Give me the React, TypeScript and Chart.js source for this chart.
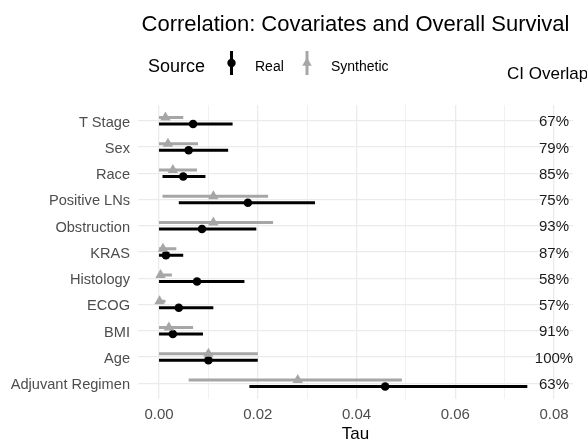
import React, { useEffect, useRef } from 'react';
import { Chart, registerables } from 'chart.js';

Chart.register(...registerables);

const categories = ['T Stage', 'Sex', 'Race', 'Positive LNs', 'Obstruction', 'KRAS', 'Histology', 'ECOG', 'BMI', 'Age', 'Adjuvant Regimen'];
const realEst = [0.0069, 0.006, 0.0049, 0.018, 0.0087, 0.0014, 0.0077, 0.004, 0.0028, 0.01, 0.0458];
const realLo = [0, 0, 0.0007, 0.004, 0, 0, 0, 0, 0, 0, 0.0183];
const realHi = [0.0149, 0.014, 0.0094, 0.0316, 0.0197, 0.0049, 0.0173, 0.011, 0.0089, 0.02, 0.0746];
const synEst = [0.0013, 0.0018, 0.0028, 0.011, 0.011, 0.0008, 0.0003, 0.0001, 0.002, 0.01, 0.0281];
const synLo = [0, 0, 0, 0.0007, 0, 0, 0, 0, 0, 0, 0.006];
const synHi = [0.0049, 0.0079, 0.0077, 0.0221, 0.0231, 0.0035, 0.0026, 0.0013, 0.0069, 0.02, 0.0492];
const overlapLabels = ['67%', '79%', '85%', '75%', '93%', '87%', '58%', '57%', '91%', '100%', '63%'];
const overlapX = 0.08;
const xTicks = [0, 0.01, 0.02, 0.03, 0.04, 0.05, 0.06, 0.07, 0.08];
const xTickLabels = ['0.00', '', '0.02', '', '0.04', '', '0.06', '', '0.08'];

const REAL = '#000000';
const SYN = '#a6a6a6';
const GRID = '#ebebeb';
const FONT = '"Liberation Sans", Arial, Helvetica, sans-serif';
const DODGE = 0.125;

function ciData(lo: number[], hi: number[], offset: number) {
  const pts: { x: number; y: number | null }[] = [];
  lo.forEach((l, i) => {
    pts.push({ x: l, y: i + offset });
    pts.push({ x: hi[i], y: i + offset });
    pts.push({ x: hi[i], y: null });
  });
  return pts;
}

function estData(est: number[], offset: number) {
  return est.map((v, i) => ({ x: v, y: i + offset }));
}

function tri(ctx: CanvasRenderingContext2D, x: number, y: number, r: number) {
  ctx.beginPath();
  ctx.moveTo(x, y - r);
  ctx.lineTo(x + r * 0.866, y + r * 0.5);
  ctx.lineTo(x - r * 0.866, y + r * 0.5);
  ctx.closePath();
  ctx.fill();
}

const annot = {
  id: 'annot',
  afterDatasetsDraw(chart: any) {
    const { ctx, scales } = chart;
    ctx.save();
    ctx.font = `15px ${FONT}`;
    ctx.fillStyle = '#1a1a1a';
    ctx.textAlign = 'center';
    ctx.textBaseline = 'middle';
    overlapLabels.forEach((t, i) => {
      ctx.fillText(t, scales.x.getPixelForValue(overlapX), scales.y.getPixelForValue(i) + 1.5);
    });
    ctx.restore();
  },
  afterDraw(chart: any) {
    const { ctx, chartArea } = chart;
    const cx = (chartArea.left + chartArea.right) / 2;
    ctx.save();
    ctx.fillStyle = '#000';
    ctx.textBaseline = 'alphabetic';
    ctx.textAlign = 'center';
    ctx.font = `22px ${FONT}`;
    ctx.fillText('Correlation: Covariates and Overall Survival', cx, 31);
    ctx.font = `17px ${FONT}`;
    ctx.fillText('Tau', cx, 439);
    ctx.textAlign = 'left';
    ctx.font = `18px ${FONT}`;
    ctx.fillText('Source', 148, 71.5);
    ctx.font = `14px ${FONT}`;
    ctx.fillText('Real', 255, 70.5);
    ctx.fillText('Synthetic', 331, 70.5);
    ctx.font = `17px ${FONT}`;
    ctx.fillText('CI Overlap', 507, 79);
    // legend keys
    ctx.lineWidth = 3;
    ctx.strokeStyle = REAL;
    ctx.beginPath();
    ctx.moveTo(231.5, 51);
    ctx.lineTo(231.5, 75);
    ctx.stroke();
    ctx.beginPath();
    ctx.arc(231.5, 63, 4.2, 0, Math.PI * 2);
    ctx.fill();
    ctx.strokeStyle = SYN;
    ctx.fillStyle = SYN;
    ctx.beginPath();
    ctx.moveTo(307, 51);
    ctx.lineTo(307, 75);
    ctx.stroke();
    tri(ctx, 307, 63, 5.5);
    ctx.restore();
  },
};

export default function App() {
  const ref = useRef<HTMLCanvasElement>(null);
  useEffect(() => {
    if (!ref.current) return;
    const chart = new Chart(ref.current, {
      type: 'scatter',
      data: {
        datasets: [
          {
            label: 'Synthetic CI',
            data: ciData(synLo, synHi, -DODGE),
            showLine: true,
            borderColor: SYN,
            borderWidth: 3,
            pointRadius: 0,
            pointHoverRadius: 0,
            spanGaps: false,
          },
          {
            label: 'Synthetic',
            data: estData(synEst, -DODGE),
            pointStyle: 'triangle',
            pointRadius: 6,
            backgroundColor: SYN,
            borderColor: SYN,
            borderWidth: 0,
          },
          {
            label: 'Real CI',
            data: ciData(realLo, realHi, DODGE),
            showLine: true,
            borderColor: REAL,
            borderWidth: 3,
            pointRadius: 0,
            pointHoverRadius: 0,
            spanGaps: false,
          },
          {
            label: 'Real',
            data: estData(realEst, DODGE),
            pointStyle: 'circle',
            pointRadius: 4.3,
            backgroundColor: REAL,
            borderColor: REAL,
            borderWidth: 0,
          },
        ] as any,
      },
      options: {
        responsive: false,
        maintainAspectRatio: false,
        animation: false,
        devicePixelRatio: 1,
        events: [],
        layout: { padding: { top: 105, right: 14, left: 0, bottom: 0 } },
        plugins: { legend: { display: false }, tooltip: { enabled: false }, title: { display: false } },
        scales: {
          x: {
            type: 'linear',
            min: -0.00426,
            max: 0.08385,
            afterBuildTicks: (s: any) => {
              s.ticks = xTicks.map((v) => ({ value: v }));
            },
            afterFit: (s: any) => {
              s.height = 42;
            },
            ticks: {
              autoSkip: false,
              maxRotation: 0,
              padding: 7,
              color: '#4d4d4d',
              font: { family: FONT, size: 15 },
              callback: (_v: any, i: number) => xTickLabels[i],
            },
            grid: {
              color: GRID,
              drawTicks: false,
              lineWidth: (c: any) => (c.index % 2 === 0 ? 1.3 : 0.7),
            },
            border: { display: false },
          },
          y: {
            type: 'linear',
            min: -0.6,
            max: 10.6,
            reverse: true,
            afterBuildTicks: (s: any) => {
              s.ticks = categories.map((_, i) => ({ value: i }));
            },
            afterFit: (s: any) => {
              s.width = 138;
            },
            ticks: {
              autoSkip: false,
              padding: 8,
              labelOffset: 1.8,
              color: '#4d4d4d',
              font: { family: FONT, size: 14.6 },
              callback: (_v: any, i: number) => categories[i],
            },
            grid: { color: GRID, drawTicks: false, lineWidth: 1.3 },
            border: { display: false },
          },
        },
      } as any,
      plugins: [annot],
    });
    return () => chart.destroy();
  }, []);
  return (
    <div style={{ position: 'fixed', left: 0, top: 0, width: 587, height: 441, background: '#fff' }}>
      <canvas ref={ref} width={587} height={441} style={{ display: 'block' }} />
    </div>
  );
}
